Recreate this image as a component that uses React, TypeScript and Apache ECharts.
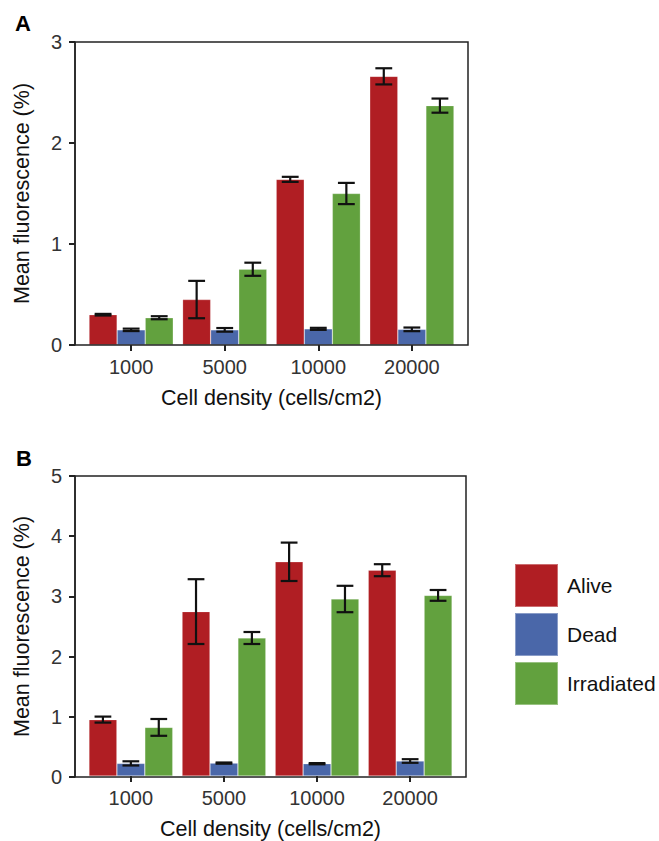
import React, { useEffect, useRef } from "react";
import * as echarts from "echarts";

const FONT = '"Liberation Sans", Arial, Helvetica, sans-serif';

const categories = ["1000", "5000", "10000", "20000"];
const seriesNames = ["Alive", "Dead", "Irradiated"];
const seriesColors = ["#B01E23", "#4A67A9", "#62A13E"];

// Panel A
const aAlive = [0.3, 0.45, 1.64, 2.66];
const aAliveErr = [0.008, 0.185, 0.025, 0.08];
const aDead = [0.15, 0.15, 0.16, 0.155];
const aDeadErr = [0.012, 0.018, 0.01, 0.018];
const aIrr = [0.27, 0.75, 1.5, 2.37];
const aIrrErr = [0.015, 0.065, 0.105, 0.07];
const aYTicks = [0, 1, 2, 3];

// Panel B
const bAlive = [0.94, 2.74, 3.57, 3.43];
const bAliveErr = [0.05, 0.54, 0.32, 0.1];
const bDead = [0.21, 0.215, 0.205, 0.25];
const bDeadErr = [0.035, 0.01, 0.01, 0.03];
const bIrr = [0.81, 2.3, 2.95, 3.01];
const bIrrErr = [0.14, 0.1, 0.22, 0.09];
const bYTicks = [0, 1, 2, 3, 4, 5];

const yTitle = "Mean fluorescence (%)";
const xTitle = "Cell density (cells/cm2)";

type Frame = { left: number; top: number; width: number; height: number };

function buildPanel(
  p: number,
  frame: Frame,
  yTicks: number[],
  means: number[][],
  errs: number[][]
) {
  const unit = frame.width / 4.2;
  const barsLeft = frame.left + 0.1 * unit;
  const barsWidth = 4 * unit;
  const ymax = yTicks[yTicks.length - 1];
  const gFrame = p * 2;
  const gBars = p * 2 + 1;

  const grids = [
    {
      left: frame.left,
      top: frame.top,
      width: frame.width,
      height: frame.height,
      show: true,
      borderColor: "#222",
      borderWidth: 1.5,
      backgroundColor: "transparent",
      z: 5,
    },
    {
      left: barsLeft,
      top: frame.top,
      width: barsWidth,
      height: frame.height,
      show: false,
    },
  ];

  const xAxes = [
    { gridIndex: gFrame, type: "value", min: 0, max: 1, show: false },
    {
      gridIndex: gBars,
      type: "category",
      data: categories,
      axisLine: { show: false },
      axisTick: {
        show: true,
        alignWithLabel: true,
        length: 6,
        lineStyle: { color: "#222", width: 2 },
      },
      axisLabel: { fontSize: 20, color: "#333", margin: 12, fontFamily: FONT },
      name: xTitle,
      nameLocation: "middle",
      nameGap: 42,
      nameTextStyle: { fontSize: 21.5, color: "#111", fontFamily: FONT },
    },
  ];

  const yAxes = [
    {
      gridIndex: gFrame,
      type: "value",
      min: 0,
      max: ymax,
      interval: 1,
      axisLine: { show: true, lineStyle: { color: "#222", width: 1.5 } },
      axisTick: { show: true, length: 6, lineStyle: { color: "#222", width: 2 } },
      axisLabel: { fontSize: 20, color: "#333", margin: 13, fontFamily: FONT },
      splitLine: { show: false },
      name: yTitle,
      nameLocation: "middle",
      nameRotate: 90,
      nameGap: 42,
      nameTextStyle: { fontSize: 21.5, color: "#111", fontFamily: FONT },
    },
    { gridIndex: gBars, type: "value", min: 0, max: ymax, show: false },
  ];

  const series: any[] = [];
  seriesNames.forEach((name, si) => {
    series.push({
      name,
      type: "bar",
      xAxisIndex: gBars,
      yAxisIndex: gBars,
      data: means[si],
      barGap: "0%",
      barCategoryGap: "10%",
      itemStyle: {
        color: seriesColors[si],
        borderColor: "rgba(255,255,255,0.35)",
        borderWidth: 0.6,
      },
      z: 2,
    });
  });
  seriesNames.forEach((name, si) => {
    const off = si - 1;
    series.push({
      name: `${name}-err-${p}`,
      type: "custom",
      xAxisIndex: gBars,
      yAxisIndex: gBars,
      z: 6,
      data: means[si].map((m, i) => [i, m - errs[si][i], m + errs[si][i]]),
      encode: { x: 0, y: [1, 2] },
      renderItem: (_params: any, api: any) => {
        const idx = api.value(0);
        const lo = api.value(1);
        const hi = api.value(2);
        const band = api.size([1, 0])[0];
        const bw = (band * 0.9) / 3;
        const pLo = api.coord([idx, lo]);
        const pHi = api.coord([idx, hi]);
        const cx = pLo[0] + off * bw;
        const cap = (bw * 0.6) / 2;
        const style = { stroke: "#111", lineWidth: 2.2, fill: null };
        return {
          type: "group",
          children: [
            { type: "line", shape: { x1: cx, y1: pLo[1], x2: cx, y2: pHi[1] }, style },
            { type: "line", shape: { x1: cx - cap, y1: pHi[1], x2: cx + cap, y2: pHi[1] }, style },
            { type: "line", shape: { x1: cx - cap, y1: pLo[1], x2: cx + cap, y2: pLo[1] }, style },
          ],
        };
      },
    });
  });

  return { grids, xAxes, yAxes, series };
}

export default function App() {
  const ref = useRef<HTMLDivElement>(null);

  useEffect(() => {
    if (!ref.current) return;
    const chart = echarts.init(ref.current, undefined, { renderer: "svg" });

    const pa = buildPanel(
      0,
      { left: 75, top: 42, width: 393, height: 303 },
      aYTicks,
      [aAlive, aDead, aIrr],
      [aAliveErr, aDeadErr, aIrrErr]
    );
    const pb = buildPanel(
      1,
      { left: 75, top: 476, width: 391, height: 301 },
      bYTicks,
      [bAlive, bDead, bIrr],
      [bAliveErr, bDeadErr, bIrrErr]
    );

    chart.setOption({
      animation: false,
      backgroundColor: "#ffffff",
      textStyle: { fontFamily: FONT },
      grid: [...pa.grids, ...pb.grids],
      xAxis: [...pa.xAxes, ...pb.xAxes],
      yAxis: [...pa.yAxes, ...pb.yAxes],
      series: [...pa.series, ...pb.series],
      legend: {
        data: seriesNames,
        orient: "vertical",
        left: 514,
        top: 563,
        padding: 0,
        itemWidth: 43,
        itemHeight: 43,
        itemGap: 4,
        icon: "rect",
        selectedMode: false,
        textStyle: { fontSize: 21, color: "#111", fontFamily: FONT, padding: [0, 0, 0, 4] },
      },
      graphic: [
        {
          type: "text",
          left: 15,
          top: 12,
          style: { text: "A", font: `bold 22px ${FONT}`, fill: "#000" },
        },
        {
          type: "text",
          left: 16,
          top: 447,
          style: { text: "B", font: `bold 22px ${FONT}`, fill: "#000" },
        },
      ],
    });

    return () => chart.dispose();
  }, []);

  return (
    <div
      ref={ref}
      style={{ position: "absolute", left: 0, top: 0, width: 659, height: 841 }}
    />
  );
}
